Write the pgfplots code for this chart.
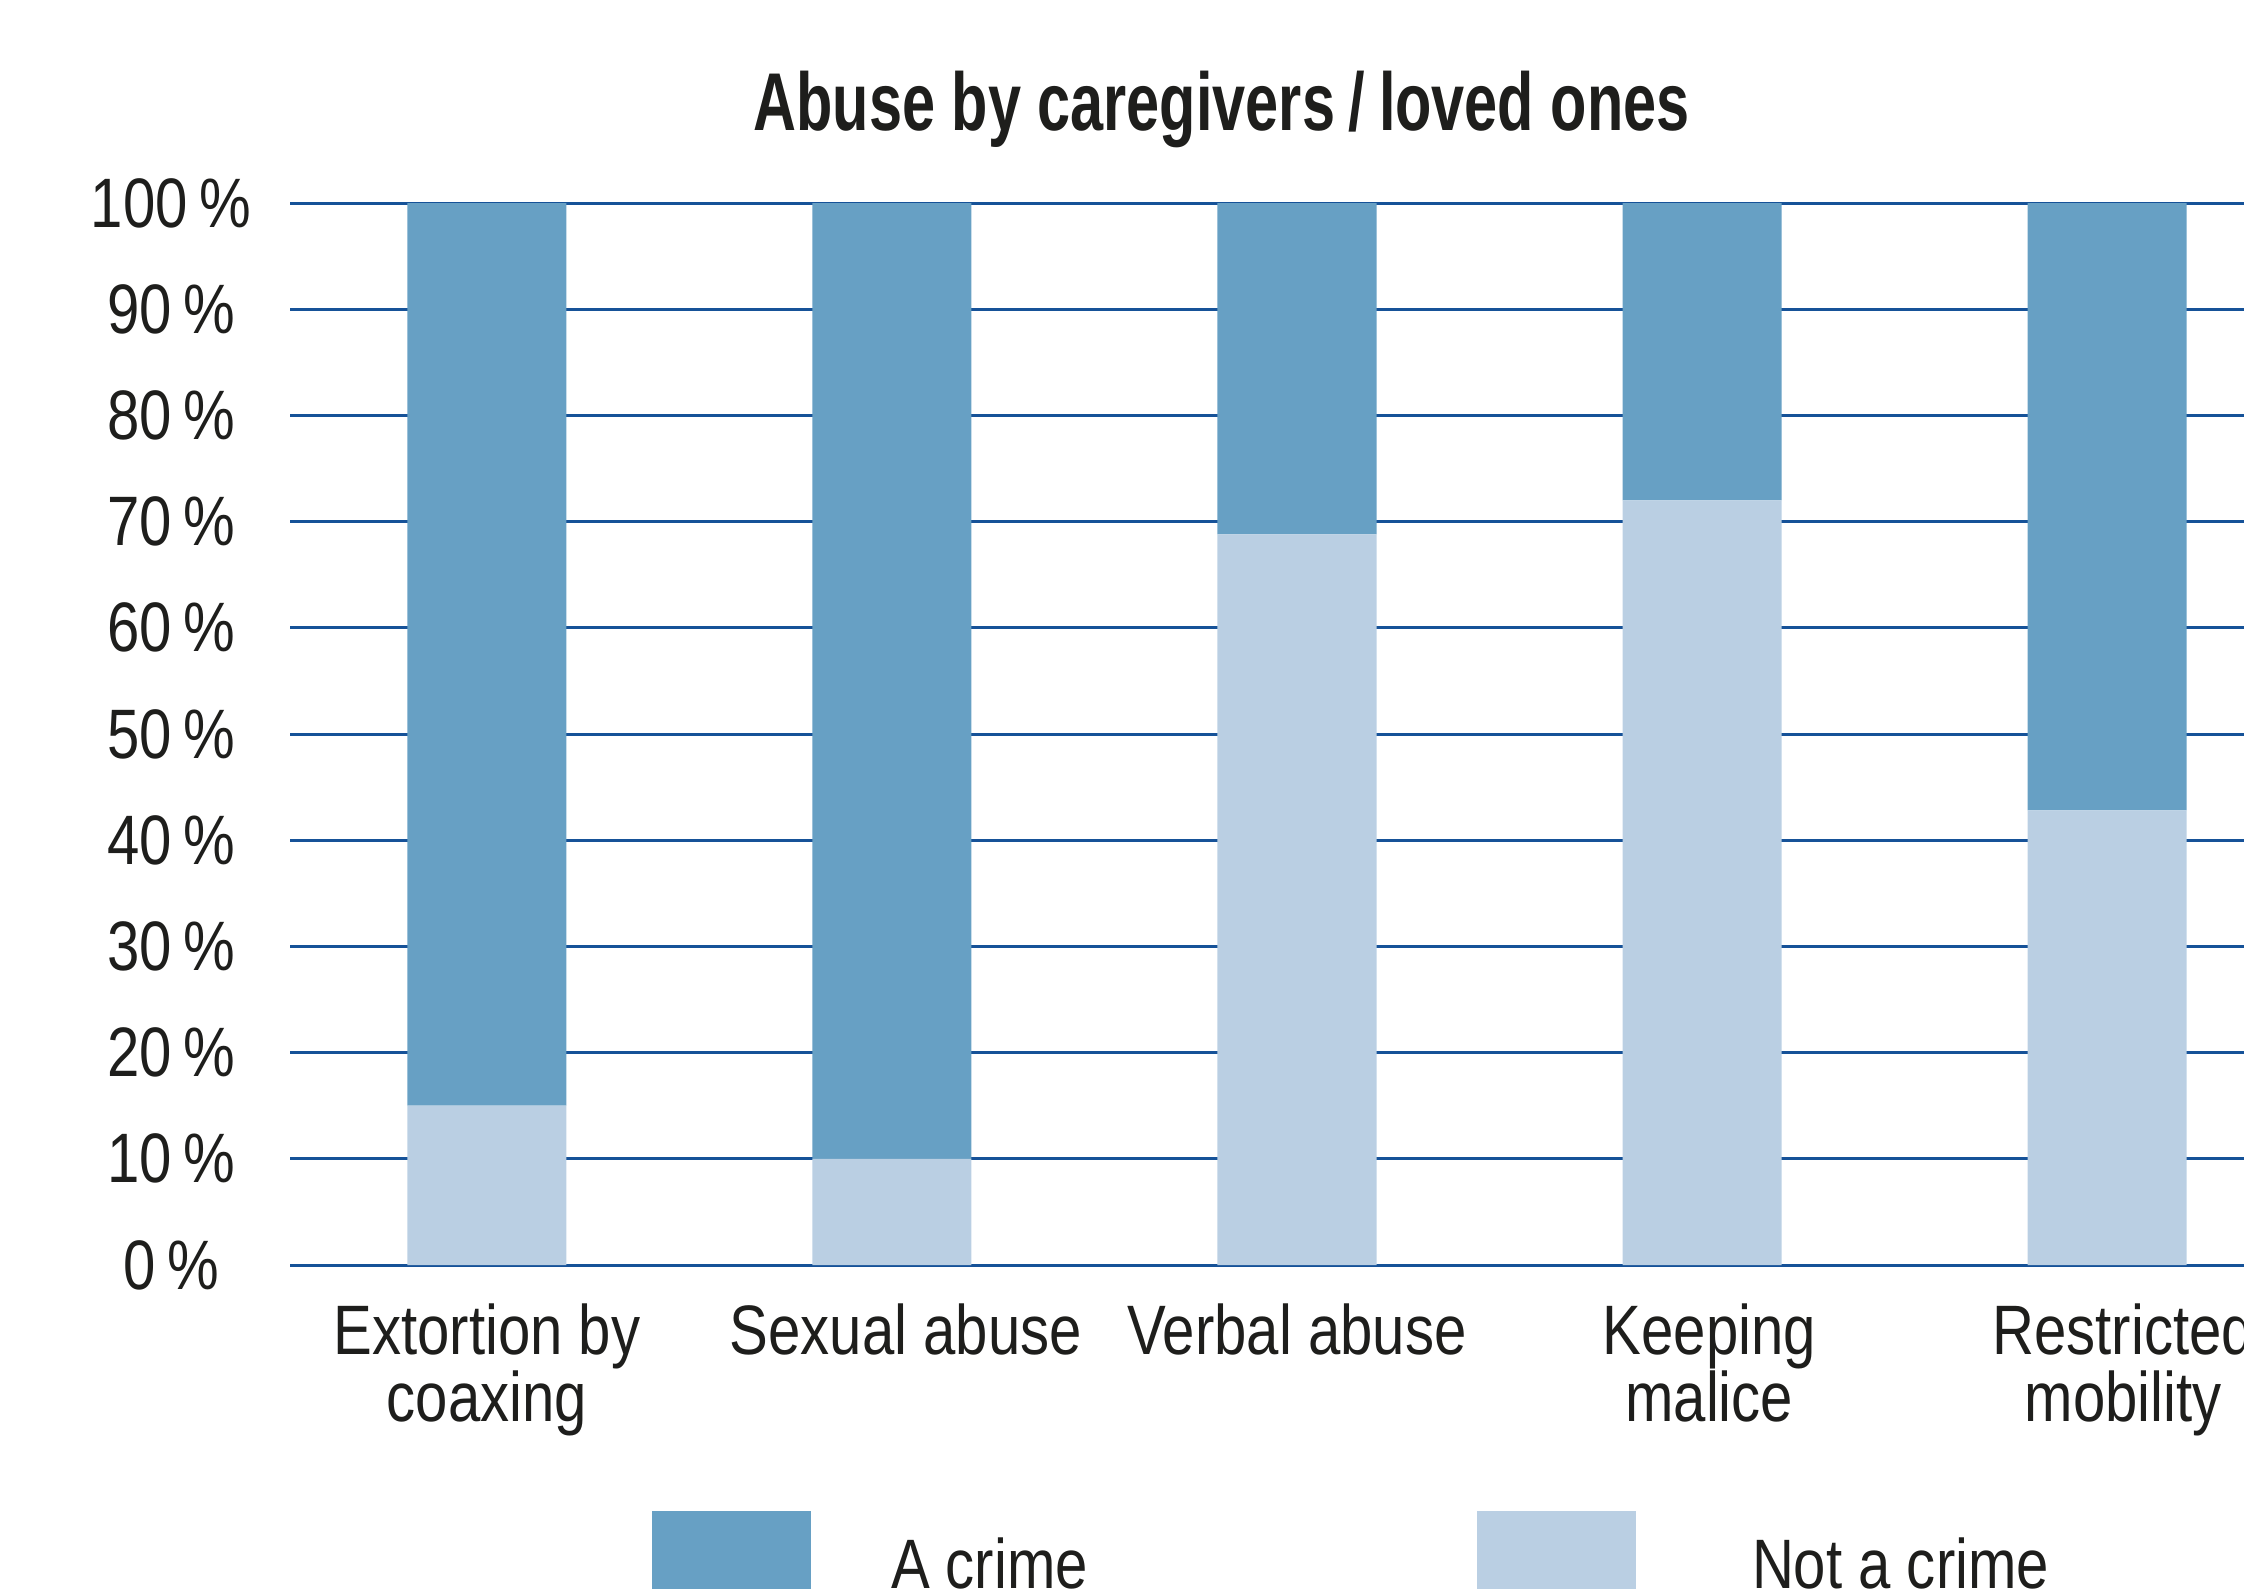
\documentclass[border=0pt]{standalone}
\usepackage{fontspec}
\setmainfont{Liberation Sans}[FakeStretch=0.83]
\newfontfamily\titlefont{Liberation Sans}[FakeStretch=0.725]
\usepackage{pgfplots}
\pgfplotsset{compat=1.18}
\definecolor{acrime}{RGB}{103,160,196}
\definecolor{notcrime}{RGB}{186,207,227}
\definecolor{gridblue}{RGB}{22,82,152}
\definecolor{txt}{RGB}{30,30,28}
\begin{document}
\begin{tikzpicture}
\path[use as bounding box] (0,0) rectangle (561pt,397pt);
\clip (0,0) rectangle (561pt,397pt);
\begin{axis}[
  at={(72.5pt,80.75pt)}, anchor=south west,
  scale only axis, width=488.5pt, height=265.5pt,
  ybar stacked, bar width=39.75pt,
  xmin=-0.486, xmax=4.338, ymin=0, ymax=100,
  xtick={0,1,2,3,4},
  xticklabels={{Extortion by\\coaxing},{\hspace*{7pt}Sexual abuse},{Verbal abuse},{\hspace*{3.6pt}Keeping\\\hspace*{3.6pt}malice},{\hspace*{8pt}Restricted\\\hspace*{8pt}mobility}},
  ytick={0,10,...,100},
  yticklabels={0\,\%,10\,\%,20\,\%,30\,\%,40\,\%,50\,\%,60\,\%,70\,\%,80\,\%,90\,\%,100\,\%},
  ymajorgrids, grid style={gridblue, line width=0.75pt},
  axis line style={draw=none}, major tick length=0pt, tick style={draw=none},
  xticklabel style={align=center, anchor=north, inner sep=0pt, yshift=-9.5pt,
    font=\fontsize{17.5}{16.7}\selectfont, text=txt},
  yticklabel style={anchor=center, inner sep=0pt, xshift=-29.75pt,
    font=\fontsize{17.5}{21}\selectfont, text=txt},
  title={\titlefont\bfseries Abuse by caregivers\,/\,loved ones},
  title style={at={(0.47677,1.04600)}, anchor=base, inner sep=0pt,
    font=\fontsize{20.5}{24}\selectfont, text=txt},
  legend image code/.code={\fill[#1] (0pt,-10pt) rectangle (39.75pt,13.75pt);},
  reverse legend,
  legend columns=2,
  legend style={at={(0.18526,-0.23164)}, anchor=north west, draw=none, fill=none,
    inner sep=0pt, outer sep=0pt, column sep=0pt,
    nodes={inner sep=0pt, outer sep=0pt},
    font=\fontsize{17.5}{21}\selectfont, text=txt},
  legend cell align=left,
]
\addplot[fill=notcrime, draw=none] coordinates {(0,15) (1,10) (2,68.8) (3,72) (4,42.8)};
\addlegendentry{\hspace{29pt}Not a crime}
\addplot[fill=acrime, draw=none] coordinates {(0,85) (1,90) (2,31.2) (3,28) (4,57.2)};
\addlegendentry{\makebox[166.5pt][l]{\hspace{20pt}A crime}}
\draw[gridblue, line width=0.75pt] (rel axis cs:0,0) -- (rel axis cs:1,0);
\end{axis}
\end{tikzpicture}
\end{document}
